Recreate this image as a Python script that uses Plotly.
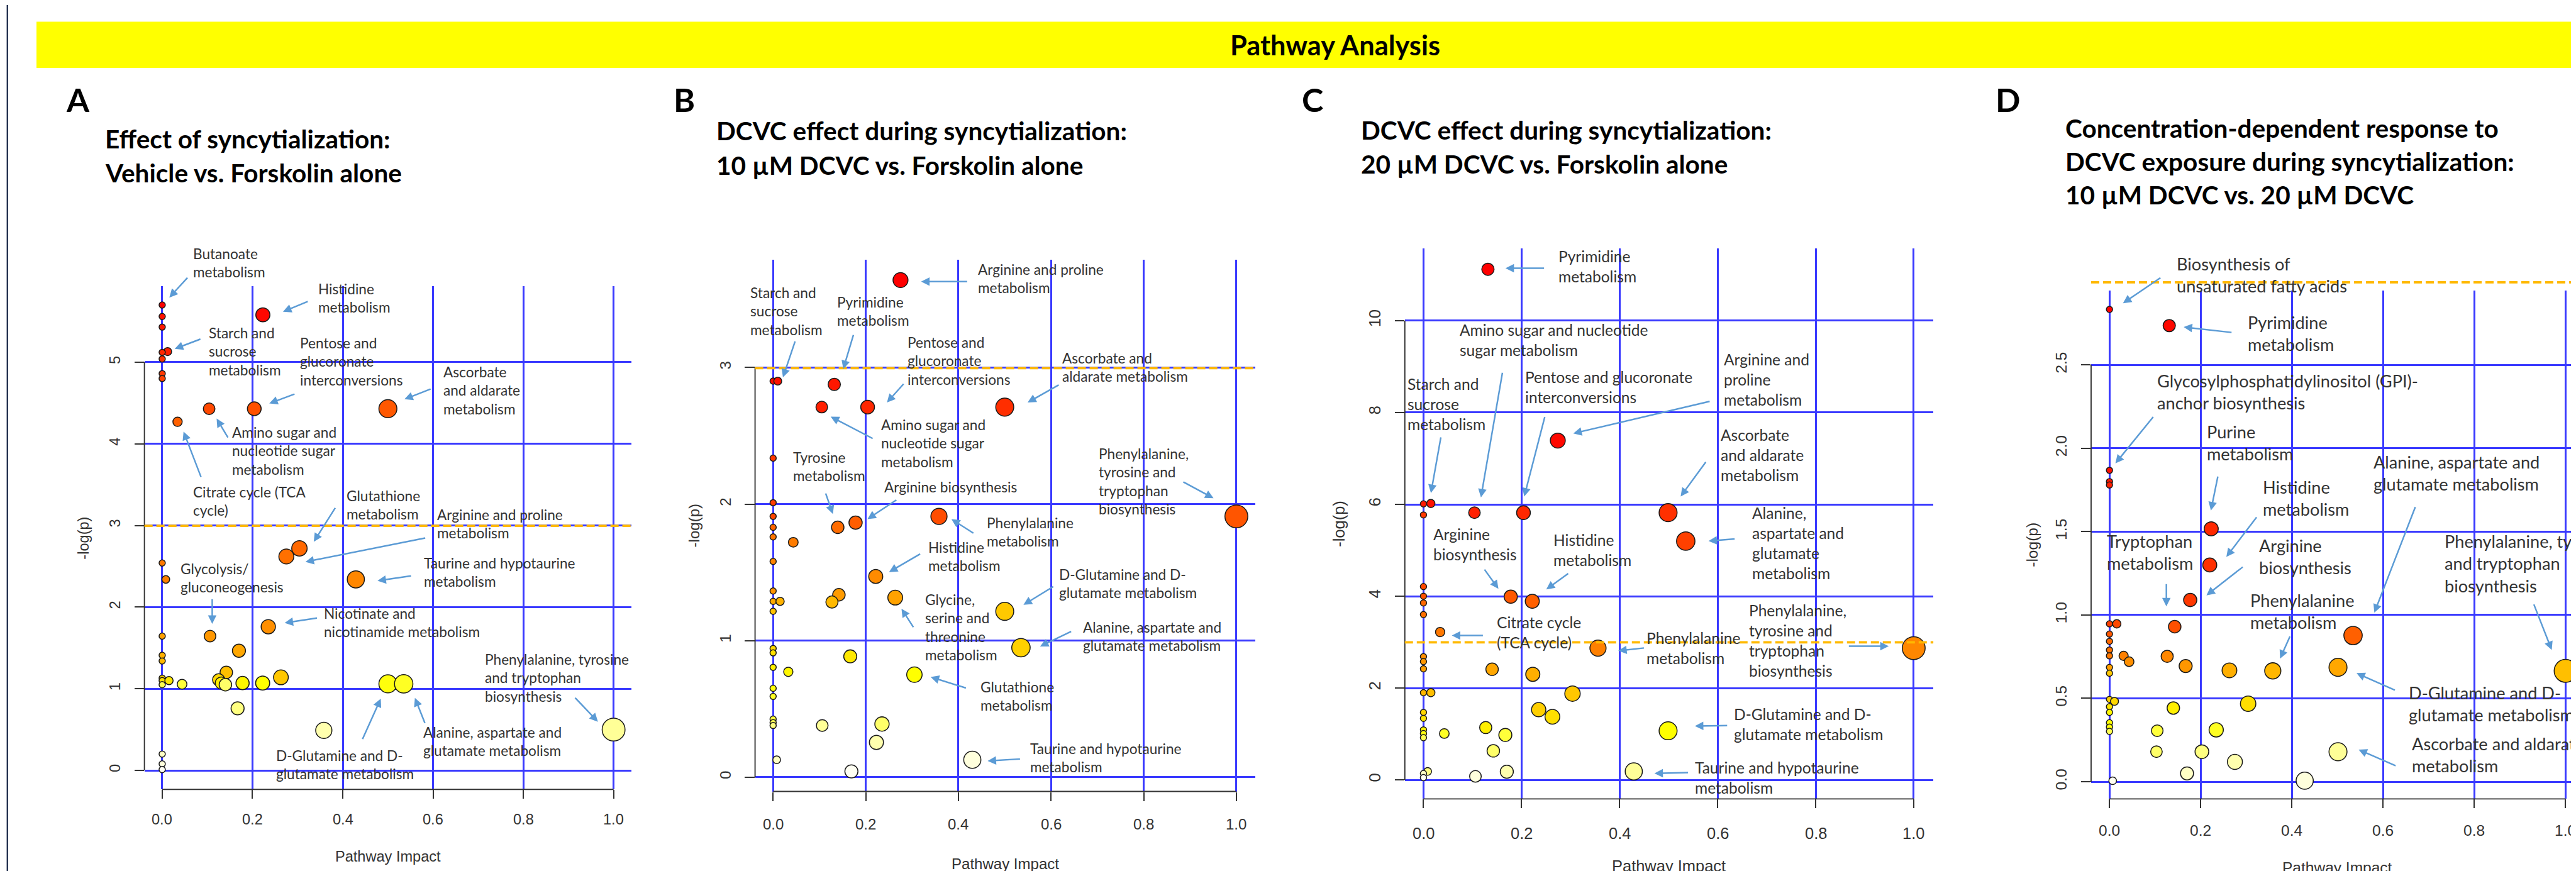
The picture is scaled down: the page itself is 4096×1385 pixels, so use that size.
import math
import colorsys
import plotly.graph_objects as go

# ---------------- reference geometry helpers ----------------
W_REF, H_REF = 4343, 1468
W, H = 4096, 1385
S = W / W_REF


def px(fx):
    return fx / W_REF


def py(fy):
    return 1 - fy / H_REF


# ---------------- data ----------------
x_tick_vals = [0.0, 0.2, 0.4, 0.6, 0.8, 1.0]
x_tick_text = ["0.0", "0.2", "0.4", "0.6", "0.8", "1.0"]

# Panel A: Vehicle vs. Forskolin alone
a_impact = [0, 0, 0, 0, 0.012, 0, 0, 0, 0.223, 0.104, 0.204, 0.50, 0.034, 0.304, 0.275, 0, 0.008,
            0.429, 0.235, 0.106, 0, 0.170, 0, 0, 0.142, 0.263, 0, 0.125, 0, 0.015, 0.131, 0.178,
            0.2225, 0.50, 0.535, 0.044, 0, 0.140, 0.167, 0.358, 1.0, 0, 0, 0]
a_logp = [5.70, 5.56, 5.43, 5.12, 5.13, 5.04, 4.86, 4.80, 5.58, 4.43, 4.43, 4.43, 4.27, 2.72, 2.62,
          2.54, 2.34, 2.34, 1.76, 1.645, 1.645, 1.466, 1.41, 1.34, 1.20, 1.14, 1.13, 1.11, 1.10,
          1.10, 1.07, 1.07, 1.07, 1.06, 1.06, 1.056, 1.05, 1.05, 0.76, 0.49, 0.50, 0.20, 0.08, 0.01]
a_y_ticks = [0, 1, 2, 3, 4, 5]
a_y_text = ["0", "1", "2", "3", "4", "5"]

# Panel B: 10 uM DCVC vs. Forskolin alone
b_impact = [0.275, 0, 0.010, 0.132, 0.105, 0.204, 0.50, 0, 0, 0, 0.358, 1.0, 0.178, 0, 0.1395, 0,
            0.0435, 0, 0.2215, 0, 0.142, 0.2636, 0, 0.015, 0.127, 0, 0.50, 0.535, 0, 0, 0.1665, 0,
            0.0328, 0.305, 0, 0, 0, 0, 0.235, 0, 0.106, 0.223, 0.0077, 0.43, 0.169]
b_logp = [3.64, 2.90, 2.90, 2.876, 2.71, 2.71, 2.71, 2.336, 2.01, 1.91, 1.91, 1.91, 1.864, 1.83,
          1.83, 1.76, 1.72, 1.58, 1.47, 1.364, 1.336, 1.315, 1.288, 1.288, 1.283, 1.215, 1.215,
          0.949, 0.943, 0.911, 0.885, 0.805, 0.772, 0.751, 0.651, 0.592, 0.426, 0.40, 0.39, 0.379,
          0.379, 0.255, 0.128, 0.128, 0.043]
b_y_ticks = [0, 1, 2, 3]
b_y_text = ["0", "1", "2", "3"]

# Panel C: 20 uM DCVC vs. Forskolin alone
c_impact = [0.1315, 0.274, 0, 0.015, 0.104, 0.204, 0.499, 0, 0.535, 0, 0, 0.178, 0.222, 0, 0,
            0.034, 0.356, 1.0, 0, 0, 0, 0.140, 0.223, 0, 0.015, 0.304, 0.235, 0, 0.263, 0, 0.127,
            0, 0.499, 0, 0.0425, 0.167, 0, 0.1425, 0.0085, 0.429, 0.170, 0, 0.106, 0]
c_logp = [11.12, 7.39, 6.01, 6.02, 5.82, 5.82, 5.82, 5.77, 5.20, 4.21, 4.00, 3.99, 3.89, 3.855,
          3.60, 3.22, 2.87, 2.87, 2.685, 2.578, 2.42, 2.41, 2.30, 1.90, 1.90, 1.88, 1.53, 1.47,
          1.375, 1.34, 1.14, 1.09, 1.07, 1.01, 1.01, 0.98, 0.92, 0.634, 0.185, 0.185, 0.18, 0.14,
          0.077, 0.05]
c_y_ticks = [0, 2, 4, 6, 8, 10]
c_y_text = ["0", "2", "4", "6", "8", "10"]

# Panel D: 10 uM DCVC vs. 20 uM DCVC
d_impact = [0, 0.131, 0, 0, 0, 0.223, 0.2198, 0.177, 0, 0.016, 0.143, 0, 0.534, 0, 0, 0, 0.031,
            0.1265, 0.043, 0.167, 0, 0.501, 0.263, 0.358, 1.0, 0, 0, 0.011, 0.304, 0, 0.14, 0, 0,
            0, 0.234, 0.1047, 0, 0.103, 0.2026, 0.501, 0.275, 0.17, 0.428, 0.007]
d_logp = [2.833, 2.736, 1.868, 1.80, 1.78, 1.517, 1.30, 1.09, 0.947, 0.947, 0.93, 0.886, 0.877,
          0.842, 0.79, 0.755, 0.755, 0.752, 0.72, 0.694, 0.686, 0.686, 0.668, 0.665, 0.665, 0.651,
          0.494, 0.482, 0.468, 0.45, 0.442, 0.416, 0.354, 0.328, 0.311, 0.306, 0.302, 0.18, 0.18,
          0.18, 0.119, 0.05, 0.006, 0.006]
d_y_ticks = [0, 0.5, 1.0, 1.5, 2.0, 2.5]
d_y_text = ["0.0", "0.5", "1.0", "1.5", "2.0", "2.5"]

threshold = -math.log(0.05)

# ---------------- panel layout (reference pixels) ----------------
panels = [
    dict(imp=a_impact, lp=a_logp, yt=a_y_ticks, ytt=a_y_text,
         dom=(235, 1056, 474, 1322), xr=(-0.0394, 1.0394), yr=(-0.2326, 5.930),
         ytitle=(133, 898), xtitle=(645.5, 1435), xlab_y=1373, fs=25, lab=24),
    dict(imp=b_impact, lp=b_logp, yt=b_y_ticks, ytt=b_y_text,
         dom=(1264.5, 2108, 429, 1325.5), xr=(-0.039, 1.041), yr=(-0.104, 3.790),
         ytitle=(1161, 877), xtitle=(1686, 1447), xlab_y=1381, fs=25.5, lab=24),
    dict(imp=c_impact, lp=c_logp, yt=c_y_ticks, ytt=c_y_text,
         dom=(2360, 3251, 410.5, 1338), xr=(-0.038, 1.040), yr=(-0.413, 11.57),
         ytitle=(2248, 874), xtitle=(2805.5, 1451), xlab_y=1395.5, fs=27, lab=26),
    dict(imp=d_impact, lp=d_logp, yt=d_y_ticks, ytt=d_y_text,
         dom=(3517, 4343, 481, 1338), xr=(-0.0403, 1.0338), yr=(-0.103, 2.947),
         ytitle=(3417, 909.5), xtitle=(3932.5, 1454), xlab_y=1391, fs=26, lab=28.8),
]


def to_paper_y(p, v):
    l, r, t, b = p["dom"]
    y0, y1 = p["yr"]
    return py(b - (v - y0) / (y1 - y0) * (b - t))


def to_paper_x(p, v):
    l, r, t, b = p["dom"]
    x0, x1 = p["xr"]
    return px(l + (v - x0) / (x1 - x0) * (r - l))


def heat_colors(n):
    j = n // 4
    i = n - j
    cols = []
    for k in range(i):
        h = (1 / 6) * (k / (i - 1) if i > 1 else 0)
        r, g, b = colorsys.hsv_to_rgb(h, 1, 1)
        cols.append("rgb(%d,%d,%d)" % (round(r * 255), round(g * 255), round(b * 255)))
    if j > 0:
        s0, s1 = 1 - 1 / (2 * j), 1 / (2 * j)
        for k in range(j):
            s = s0 + (s1 - s0) * (k / (j - 1) if j > 1 else 0)
            r, g, b = colorsys.hsv_to_rgb(1 / 6, s, 1)
            cols.append("rgb(%d,%d,%d)" % (round(r * 255), round(g * 255), round(b * 255)))
    return cols


fig = go.Figure()

GRID = "#3a3aff"
AXC = "#333333"
TICKFONT = "Liberation Sans"

for n, p in enumerate(panels, start=1):
    sfx = "" if n == 1 else str(n)
    order = sorted(range(len(p["lp"])), key=lambda k: -p["lp"][k])
    cols = heat_colors(len(order))
    xs = [p["imp"][k] for k in order]
    ys = [p["lp"][k] for k in order]
    sizes = [(10.5 + 28.1 * math.sqrt(max(v, 0))) * S for v in xs]
    fig.add_trace(go.Scatter(
        x=xs, y=ys, mode="markers", xaxis="x" + sfx, yaxis="y" + sfx,
        cliponaxis=False, hoverinfo="skip",
        marker=dict(size=sizes, color=cols, line=dict(color="#1a1a1a", width=1.6 * S), opacity=1),
    ))
    l, r, t, b = p["dom"]
    fig.update_layout(**{
        "xaxis" + sfx: dict(
            domain=[px(l), min(1.0, px(r))], range=list(p["xr"]), anchor="y" + sfx,
            tickvals=x_tick_vals, ticktext=x_tick_text, ticks="outside", ticklen=15 * S,
            tickwidth=2 * S, tickcolor=AXC, showgrid=True, gridcolor=GRID, gridwidth=3 * S,
            zeroline=False, showline=False, showticklabels=False, fixedrange=True),
        "yaxis" + sfx: dict(
            domain=[py(b), py(t)], range=list(p["yr"]), anchor="x" + sfx,
            tickvals=p["yt"], ticktext=p["ytt"], ticks="outside", ticklen=16 * S,
            tickwidth=2 * S, tickcolor=AXC, showgrid=True, gridcolor=GRID, gridwidth=3 * S,
            zeroline=False, showline=False, tickangle=-90, ticklabelstandoff=int(round(14 * S)),
            tickfont=dict(family=TICKFONT, size=p["fs"] * S, color=AXC), fixedrange=True),
    })
    # x tick labels placed through the x axis scale
    for v, tt in zip(x_tick_vals, x_tick_text):
        fig.add_annotation(x=v, xref="x" + sfx, y=py(p["xlab_y"]), yref="paper", text=tt,
                           showarrow=False, xanchor="center", yanchor="middle",
                           font=dict(family=TICKFONT, size=p["fs"] * S, color=AXC))
    # R-style axis lines (from first to last tick)
    fig.add_shape(type="line", xref="paper", yref="paper", x0=px(l), x1=px(l),
                  y0=to_paper_y(p, p["yt"][0]), y1=to_paper_y(p, p["yt"][-1]),
                  line=dict(color=AXC, width=2 * S))
    fig.add_shape(type="line", xref="paper", yref="paper",
                  x0=to_paper_x(p, x_tick_vals[0]), x1=to_paper_x(p, x_tick_vals[-1]),
                  y0=py(b), y1=py(b), line=dict(color=AXC, width=2 * S))
    # significance threshold
    yth = to_paper_y(p, threshold)
    fig.add_shape(type="line", xref="paper", yref="paper", x0=px(l), x1=min(1.0, px(r)),
                  y0=yth, y1=yth,
                  line=dict(color="#FFB900", width=4 * S, dash="%dpx,%dpx" % (round(14 * S), round(6 * S))))
    # axis titles
    fig.add_annotation(x=px(p["ytitle"][0]), y=py(p["ytitle"][1]), xref="paper", yref="paper",
                       text="-log(p)", showarrow=False, textangle=-90, xanchor="center", yanchor="middle",
                       font=dict(family=TICKFONT, size=p["fs"] * S, color=AXC))
    fig.add_annotation(x=px(p["xtitle"][0]), y=py(p["xtitle"][1]), xref="paper", yref="paper",
                       text="Pathway Impact", showarrow=False, xanchor="center", yanchor="middle",
                       font=dict(family=TICKFONT, size=p["fs"] * S, color=AXC))

# ---------------- banner, border ----------------
fig.add_shape(type="rect", xref="paper", yref="paper", x0=px(53), x1=1.0, y0=py(106), y1=py(28),
              fillcolor="#FFFF00", line=dict(width=0), layer="below")
fig.add_shape(type="line", xref="paper", yref="paper", x0=px(4), x1=px(4), y0=0, y1=1,
              line=dict(color="#22304d", width=2.5 * S))


def text(t, fx, fy, size, bold=False, color="#333333", xanchor="left"):
    fig.add_annotation(x=px(fx), y=py(fy), xref="paper", yref="paper", text=t, showarrow=False,
                       xanchor=xanchor, yanchor="middle", align="left", borderpad=0,
                       font=dict(family="Lato", size=size * S, color=color, weight=700 if bold else 400))


text("Pathway Analysis", 2243, 67, 46, bold=True, color="#000000", xanchor="center")

# panel letters
for letter, fx in (("A", 102), ("B", 1126), ("C", 2185), ("D", 3355)):
    text(letter, fx, 159, 55, bold=True, color="#000000")

# panel titles (one annotation per line)
titles = [
    ("Effect of syncytialization:", 168, 225), ("Vehicle vs. Forskolin alone", 168, 282),
    ("DCVC effect during syncytialization:", 1198, 211), ("10 µM DCVC vs. Forskolin alone", 1198, 270),
    ("DCVC effect during syncytialization:", 2285, 210), ("20 µM DCVC vs. Forskolin alone", 2285, 268),
    ("Concentration-dependent response to", 3473, 207),
    ("DCVC exposure during syncytialization:", 3473, 263),
    ("10 µM DCVC vs. 20 µM DCVC", 3473, 320),
]
for t, fx, fy in titles:
    text(t, fx, fy, 43, bold=True, color="#000000")

# ---------------- pathway labels and arrows ----------------
labels = {
    0: [
        ("Butanoate<br>metabolism", 316, 437.5),
        ("Histidine<br>metabolism", 527.5, 497.5),
        ("Starch and<br>sucrose<br>metabolism", 342, 587),
        ("Pentose and<br>glucoronate<br>interconversions", 496.7, 604),
        ("Ascorbate<br>and aldarate<br>metabolism", 738, 653),
        ("Amino sugar and<br>nucleotide sugar<br>metabolism", 382, 755),
        ("Citrate cycle (TCA<br>cycle)", 315.7, 839),
        ("Glutathione<br>metabolism", 575, 845.7),
        ("Arginine and proline<br>metabolism", 727.5, 877.5),
        ("Taurine and hypotaurine<br>metabolism", 705, 959.6),
        ("Glycolysis/<br>gluconeogenesis", 294.6, 968.5),
        ("Nicotinate and<br>nicotinamide metabolism", 536.7, 1043.5),
        ("Phenylalanine, tyrosine<br>and tryptophan<br>biosynthesis", 808, 1137),
        ("D-Glutamine and D-<br>glutamate metabolism", 456, 1283),
        ("Alanine, aspartate and<br>glutamate metabolism", 703.6, 1244),
    ],
    1: [
        ("Arginine and proline<br>metabolism", 1639, 464.3),
        ("Starch and<br>sucrose<br>metabolism", 1255.4, 519),
        ("Pyrimidine<br>metabolism", 1401.3, 519.8),
        ("Pentose and<br>glucoronate<br>interconversions", 1520.5, 603),
        ("Ascorbate and<br>aldarate metabolism", 1781.5, 613.5),
        ("Amino sugar and<br>nucleotide sugar<br>metabolism", 1476.3, 741.5),
        ("Tyrosine<br>metabolism", 1327, 781),
        ("Arginine biosynthesis", 1481.3, 816),
        ("Phenylalanine<br>metabolism", 1653.8, 891),
        ("Phenylalanine,<br>tyrosine and<br>tryptophan<br>biosynthesis", 1843.2, 806.5),
        ("Histidine<br>metabolism", 1555.6, 933),
        ("Glycine,<br>serine and<br>threonine<br>metabolism", 1550, 1051.5),
        ("D-Glutamine and D-<br>glutamate metabolism", 1775.9, 978),
        ("Alanine, aspartate and<br>glutamate metabolism", 1816.6, 1067),
        ("Glutathione<br>metabolism", 1643.3, 1167.8),
        ("Taurine and hypotaurine<br>metabolism", 1726.8, 1272),
    ],
    2: [
        ("Pyrimidine<br>metabolism", 2618, 443.8),
        ("Amino sugar and nucleotide<br>sugar metabolism", 2451, 568.2),
        ("Starch and<br>sucrose<br>metabolism", 2363.4, 676),
        ("Pentose and glucoronate<br>interconversions", 2561.3, 647.7),
        ("Arginine and<br>proline<br>metabolism", 2896.6, 635),
        ("Ascorbate<br>and aldarate<br>metabolism", 2891, 762),
        ("Alanine,<br>aspartate and<br>glutamate<br>metabolism", 2944.3, 910),
        ("Arginine<br>biosynthesis", 2407, 912),
        ("Histidine<br>metabolism", 2609, 921.7),
        ("Citrate cycle<br>(TCA cycle)", 2514.3, 1060.8),
        ("Phenylalanine<br>metabolism", 2766.8, 1087),
        ("Phenylalanine,<br>tyrosine and<br>tryptophan<br>biosynthesis", 2938.7, 1074.2),
        ("D-Glutamine and D-<br>glutamate metabolism", 2914, 1215.5),
        ("Taurine and hypotaurine<br>metabolism", 2847.5, 1306),
    ],
    3: [
        ("Biosynthesis of<br>unsaturated fatty acids", 3660, 458),
        ("Pyrimidine<br>metabolism", 3779.8, 556.9),
        ("Glycosylphosphatidylinositol (GPI)-<br>anchor biosynthesis", 3627.8, 656),
        ("Purine<br>metabolism", 3711.5, 741),
        ("Histidine<br>metabolism", 3805.6, 835),
        ("Alanine, aspartate and<br>glutamate metabolism", 3992.4, 792.6),
        ("Tryptophan<br>metabolism", 3542.8, 925.8),
        ("Arginine<br>biosynthesis", 3799.3, 933),
        ("Phenylalanine<br>metabolism", 3784.7, 1025),
        ("Phenylalanine, tyrosine<br>and tryptophan<br>biosynthesis", 4112.3, 944.9),
        ("D-Glutamine and D-<br>glutamate metabolism", 4051.7, 1181.7),
        ("Ascorbate and aldarate<br>metabolism", 4057.2, 1267),
    ],
}

arrows = [
    # panel A
    (309, 458, 277, 493), (512, 499, 468.6, 517), (331, 562.5, 286, 579.5), (489.6, 655, 445.5, 671.5),
    (719, 646.5, 673.4, 664.4), (376.7, 730.4, 356.7, 697), (331, 797, 301, 719), (557.7, 846, 520.5, 904.7),
    (710, 898, 506.5, 938.5), (686, 962, 628, 970.4), (349.3, 999.8, 349.3, 1042.9), (527.5, 1033, 471.4, 1041.4),
    (959.7, 1166, 999.6, 1208), (602, 1238.8, 633.5, 1169), (708.5, 1211.8, 691, 1167.8),
    # panel B
    (1623.7, 466.2, 1544.4, 466.2), (1332.5, 565.3, 1311.5, 627.6), (1430.8, 554.5, 1413.2, 613.5),
    (1516.3, 637, 1486.9, 670), (1778, 639.4, 1724, 670), (1464.4, 731.4, 1392, 693.7),
    (1383, 821.5, 1395.7, 857.7), (1504.4, 833.2, 1454, 866.5), (1634.2, 891, 1595.6, 866.5),
    (1985, 802.9, 2037.5, 831.3), (1544.4, 924.3, 1490.4, 955.7), (1532.5, 1050.2, 1511.4, 1017.4),
    (1768.9, 979.2, 1717, 1011), (1799, 1055, 1745, 1081), (1621.6, 1151.6, 1560.5, 1132.5),
    (1712.8, 1270.6, 1656.6, 1274),
    # panel C
    (2596.3, 443.6, 2529.7, 443.6), (2524.8, 618.2, 2488.3, 829.8), (2421, 727, 2404, 822.5),
    (2596.3, 692.7, 2561.3, 828.3), (2875.5, 667.7, 2644, 722), (2868.5, 768.6, 2825, 828.3),
    (2917.6, 899.8, 2872, 903.3), (2493.2, 949.8, 2517.8, 984), (2637, 957, 2598.4, 985),
    (2493.2, 1062.5, 2439.2, 1062.5), (2764.7, 1083.5, 2719.8, 1088.4), (3107, 1080.6, 3175.8, 1080.6),
    (2905, 1214.3, 2849, 1215.3), (2839, 1293.6, 2780.8, 1295),
    # panel D
    (3635.5, 458.7, 3570.7, 502.6), (3755.4, 552, 3673.1, 542.7), (3623, 692.7, 3558, 772.5),
    (3731, 793, 3719, 851.8), (3797.2, 861.6, 3745, 930.2), (4064.2, 844.5, 3994.5, 1024.2),
    (3643.9, 974.3, 3643.9, 1013.5), (3774.2, 945.9, 3711.5, 994.9), (3853, 1062.5, 3835.6, 1101.6),
    (4262.9, 1008.6, 4293.6, 1087), (4030.7, 1155.5, 3964.5, 1126), (4032, 1282.9, 3968, 1255),
]

for k, items in labels.items():
    for item in items:
        t, fx, fy = item[:3]
        size = item[3] if len(item) > 3 else panels[k]["lab"]
        text(t, fx, fy - 0.13 * size, size, color="#333333")

for tx, ty, hx, hy in arrows:
    fig.add_annotation(x=px(hx), y=py(hy), xref="paper", yref="paper", text="", showarrow=True,
                       ax=(tx - hx) * S, ay=(ty - hy) * S, arrowhead=2, arrowsize=1.1,
                       arrowwidth=2.6 * S, arrowcolor="#5B9BD5", standoff=0)

fig.update_layout(width=W, height=H, margin=dict(l=0, r=0, t=0, b=0), showlegend=False,
                  paper_bgcolor="white", plot_bgcolor="white")

fig.write_html("out.html", config={"displayModeBar": False})
